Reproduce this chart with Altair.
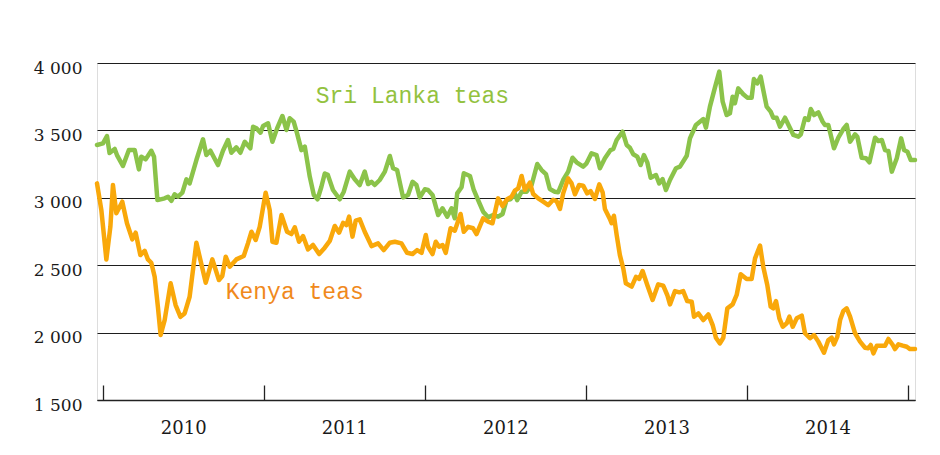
import altair as alt
import pandas as pd

# Sri Lanka teas (decimal year, price)
sl_year = [2009.965, 2010.002, 2010.027, 2010.043, 2010.075, 2010.089, 2010.126, 2010.163, 2010.199, 2010.225,
           2010.240, 2010.267, 2010.302, 2010.319, 2010.340, 2010.385, 2010.406, 2010.427, 2010.447, 2010.468,
           2010.495, 2010.520, 2010.540, 2010.582, 2010.623, 2010.644, 2010.669, 2010.716, 2010.747, 2010.778,
           2010.799, 2010.830, 2010.855, 2010.882, 2010.917, 2010.934, 2010.955, 2010.980, 2010.996, 2011.027,
           2011.054, 2011.083, 2011.116, 2011.141, 2011.161, 2011.186, 2011.207, 2011.234, 2011.255, 2011.286,
           2011.311, 2011.334, 2011.358, 2011.379, 2011.398, 2011.430, 2011.472, 2011.497, 2011.534, 2011.565,
           2011.596, 2011.627, 2011.648, 2011.669, 2011.689, 2011.720, 2011.752, 2011.783, 2011.803, 2011.828,
           2011.865, 2011.896, 2011.924, 2011.948, 2011.969, 2012.000, 2012.020, 2012.048, 2012.083, 2012.110,
           2012.139, 2012.166, 2012.186, 2012.201, 2012.228, 2012.242, 2012.280, 2012.304, 2012.331, 2012.362,
           2012.393, 2012.424, 2012.455, 2012.483, 2012.507, 2012.532, 2012.559, 2012.573, 2012.601, 2012.632,
           2012.663, 2012.698, 2012.725, 2012.752, 2012.776, 2012.807, 2012.828, 2012.859, 2012.890, 2012.917,
           2012.942, 2012.983, 2013.004, 2013.035, 2013.066, 2013.087, 2013.118, 2013.153, 2013.170, 2013.191,
           2013.228, 2013.253, 2013.273, 2013.294, 2013.319, 2013.340, 2013.360, 2013.381, 2013.402, 2013.435,
           2013.455, 2013.476, 2013.497, 2013.522, 2013.559, 2013.584, 2013.626, 2013.646, 2013.683, 2013.729,
           2013.745, 2013.770, 2013.801, 2013.828, 2013.849, 2013.874, 2013.894, 2013.911, 2013.925, 2013.946,
           2013.977, 2014.002, 2014.029, 2014.043, 2014.064, 2014.085, 2014.101, 2014.122, 2014.147, 2014.163,
           2014.184, 2014.205, 2014.236, 2014.263, 2014.288, 2014.319, 2014.334, 2014.360, 2014.381, 2014.396,
           2014.416, 2014.443, 2014.470, 2014.484, 2014.505, 2014.540, 2014.567, 2014.598, 2014.619, 2014.640,
           2014.671, 2014.685, 2014.712, 2014.739, 2014.760, 2014.795, 2014.816, 2014.837, 2014.857, 2014.878,
           2014.899, 2014.930, 2014.957, 2014.975, 2014.996, 2015.017, 2015.043]
sl_price = [3392, 3404, 3458, 3332, 3362, 3317, 3236, 3354, 3354, 3211,
            3305, 3285, 3349, 3305, 2983, 2996, 3008, 2978, 3026, 3008,
            3038, 3137, 3107, 3280, 3434, 3317, 3349, 3243, 3349, 3429,
            3334, 3374, 3334, 3416, 3367, 3527, 3515, 3483, 3533, 3553,
            3416, 3515, 3607, 3503, 3590, 3565, 3478, 3354, 3379, 3156,
            3021, 2989, 3082, 3180, 3170, 3058, 2989, 3045, 3194, 3137,
            3095, 3194, 3102, 3119, 3095, 3132, 3194, 3310, 3219, 3206,
            3003, 3021, 3119, 3095, 3003, 3063, 3058, 3021, 2872, 2922,
            2860, 2922, 2848, 3033, 3078, 3182, 3162, 3058, 2983, 2897,
            2855, 2872, 2860, 2880, 2983, 2989, 3033, 2983, 3045, 3045,
            3095, 3251, 3206, 3176, 3065, 3045, 3041, 3132, 3194, 3297,
            3263, 3231, 3256, 3330, 3317, 3219, 3293, 3354, 3362, 3429,
            3490, 3392, 3372, 3323, 3305, 3243, 3317, 3263, 3149, 3169,
            3107, 3139, 3058, 3132, 3219, 3231, 3312, 3441, 3540, 3584,
            3520, 3676, 3817, 3936, 3713, 3614, 3627, 3750, 3701, 3812,
            3768, 3743, 3743, 3881, 3849, 3899, 3800, 3676, 3639, 3594,
            3594, 3527, 3594, 3527, 3466, 3453, 3471, 3590, 3577, 3659,
            3614, 3634, 3564, 3540, 3540, 3367, 3446, 3510, 3540, 3416,
            3471, 3453, 3297, 3293, 3263, 3446, 3421, 3429, 3354, 3347,
            3194, 3293, 3441, 3354, 3342, 3280, 3280]

# Kenya teas (decimal year, price)
ke_year = [2009.965, 2009.992, 2010.023, 2010.048, 2010.064, 2010.085, 2010.122, 2010.151, 2010.184, 2010.205,
           2010.234, 2010.261, 2010.281, 2010.302, 2010.323, 2010.343, 2010.360, 2010.385, 2010.422, 2010.453,
           2010.483, 2010.509, 2010.540, 2010.582, 2010.607, 2010.640, 2010.681, 2010.722, 2010.743, 2010.764,
           2010.789, 2010.830, 2010.876, 2010.902, 2010.924, 2010.950, 2010.975, 2011.012, 2011.037, 2011.054,
           2011.079, 2011.110, 2011.145, 2011.172, 2011.193, 2011.219, 2011.244, 2011.275, 2011.306, 2011.344,
           2011.379, 2011.410, 2011.441, 2011.468, 2011.493, 2011.514, 2011.530, 2011.551, 2011.571, 2011.596,
           2011.627, 2011.669, 2011.710, 2011.745, 2011.783, 2011.814, 2011.855, 2011.890, 2011.924, 2011.952,
           2011.980, 2012.006, 2012.020, 2012.048, 2012.068, 2012.089, 2012.110, 2012.130, 2012.160, 2012.186,
           2012.222, 2012.242, 2012.269, 2012.300, 2012.321, 2012.362, 2012.393, 2012.420, 2012.455, 2012.483,
           2012.511, 2012.538, 2012.559, 2012.580, 2012.601, 2012.621, 2012.652, 2012.673, 2012.704, 2012.735,
           2012.766, 2012.797, 2012.818, 2012.839, 2012.859, 2012.890, 2012.911, 2012.932, 2012.958, 2012.983,
           2013.008, 2013.029, 2013.056, 2013.083, 2013.104, 2013.118, 2013.149, 2013.160, 2013.174, 2013.191,
           2013.211, 2013.232, 2013.248, 2013.284, 2013.311, 2013.331, 2013.352, 2013.381, 2013.414, 2013.449,
           2013.480, 2013.505, 2013.522, 2013.553, 2013.580, 2013.604, 2013.629, 2013.657, 2013.671, 2013.698,
           2013.729, 2013.760, 2013.787, 2013.807, 2013.832, 2013.853, 2013.878, 2013.911, 2013.936, 2013.961,
           2013.998, 2014.029, 2014.050, 2014.081, 2014.101, 2014.126, 2014.147, 2014.163, 2014.180, 2014.201,
           2014.222, 2014.247, 2014.263, 2014.284, 2014.309, 2014.340, 2014.360, 2014.391, 2014.416, 2014.443,
           2014.478, 2014.505, 2014.526, 2014.540, 2014.561, 2014.578, 2014.598, 2014.619, 2014.640, 2014.671,
           2014.702, 2014.733, 2014.753, 2014.768, 2014.785, 2014.806, 2014.837, 2014.857, 2014.878, 2014.905,
           2014.919, 2014.940, 2014.967, 2014.992, 2015.012, 2015.043]
ke_price = [3107, 2909, 2543, 2785, 3095, 2885, 2971, 2811, 2692, 2741,
            2575, 2607, 2543, 2518, 2414, 2192, 1982, 2093, 2366, 2204,
            2117, 2142, 2266, 2667, 2538, 2370, 2543, 2390, 2420, 2563,
            2489, 2543, 2568, 2662, 2748, 2687, 2785, 3038, 2909, 2674,
            2667, 2872, 2748, 2731, 2781, 2674, 2716, 2617, 2650, 2583,
            2630, 2680, 2791, 2741, 2815, 2798, 2860, 2712, 2830, 2840,
            2748, 2642, 2662, 2612, 2667, 2674, 2662, 2592, 2583, 2612,
            2592, 2724, 2637, 2583, 2674, 2637, 2650, 2592, 2774, 2756,
            2880, 2748, 2785, 2774, 2731, 2848, 2823, 2811, 2996, 2939,
            2989, 3008, 3053, 3070, 3162, 3058, 3112, 3028, 2996, 2971,
            2946, 2985, 2976, 2917, 3033, 3144, 3107, 3026, 3095, 3090,
            3033, 3050, 2991, 3100, 3041, 2917, 2843, 2811, 2867, 2724,
            2575, 2476, 2366, 2341, 2414, 2398, 2457, 2353, 2242, 2358,
            2348, 2279, 2209, 2308, 2299, 2308, 2234, 2229, 2118, 2142,
            2093, 2135, 2056, 1962, 1920, 1962, 2180, 2209, 2279, 2433,
            2398, 2398, 2551, 2645, 2489, 2353, 2192, 2180, 2234, 2106,
            2044, 2069, 2118, 2044, 2106, 2126, 1995, 1958, 1982, 1933,
            1851, 1945, 1962, 1913, 1970, 2093, 2160, 2180, 2118, 1995,
            1933, 1888, 1884, 1908, 1846, 1903, 1903, 1903, 1953, 1908,
            1878, 1913, 1903, 1895, 1878, 1878]

y_ticks = [1500, 2000, 2500, 3000, 3500, 4000]
year_bounds = [2010, 2011, 2012, 2013, 2014, 2015]
year_labels_at = [2010.5, 2011.5, 2012.5, 2013.5, 2014.5]

label_text = ["Sri Lanka teas", "Kenya teas"]
label_year = [2011.323, 2010.764]
label_price = [3755, 2301]
label_color = ["#93C23E", "#F0891C"]

W, H = 818, 337
GREEN = "#8BC34A"
ORANGE = "#F9A80A"

sl = pd.DataFrame({"year": sl_year, "price": sl_price})
ke = pd.DataFrame({"year": ke_year, "price": ke_price})
labels = pd.DataFrame({"text": label_text, "year": label_year, "price": label_price, "color": label_color})

xscale = alt.Scale(domain=[2009.965, 2015.043], nice=False, zero=False)
yscale = alt.Scale(domain=[1500, 4000], nice=False, zero=False)

y_axis = alt.Axis(values=y_ticks, grid=True, gridColor="#1e1e1e", gridWidth=1, domain=False,
                  ticks=False, tickSize=0, labelPadding=15, labelOffset=5,
                  labelExpr="replace(format(datum.value, ','), ',', ' ')",
                  labelFont="DejaVu Serif", labelFontSize=17, labelColor="#1a1a1a", title=None)

y_enc = alt.Y("price:Q", scale=yscale, axis=y_axis)

sl_line = alt.Chart(sl).mark_line(color=GREEN, strokeWidth=4.5, strokeJoin="round", strokeCap="round").encode(
    x=alt.X("year:Q", scale=xscale,
            axis=alt.Axis(orient="bottom", values=year_labels_at, grid=False, ticks=False, tickSize=0,
                          domain=True, domainColor="#222222", domainWidth=1.5,
                          labelPadding=19, labelExpr="format(floor(datum.value), 'd')",
                          labelFont="DejaVu Serif", labelFontSize=18, labelColor="#1a1a1a", title=None)),
    y=y_enc,
)

ke_line = alt.Chart(ke).mark_line(color=ORANGE, strokeWidth=4.5, strokeJoin="round", strokeCap="round").encode(
    x=alt.X("year:Q", scale=xscale,
            axis=alt.Axis(orient="top", offset=-H, values=year_bounds, grid=False, ticks=True,
                          tickSize=15, tickColor="#222222", tickWidth=1.3, domain=False,
                          labels=False, title=None)),
    y=y_enc,
)

text = alt.Chart(labels).mark_text(font="Liberation Mono", fontSize=23, align="left", baseline="middle").encode(
    x=alt.X("year:Q", scale=xscale, axis=None),
    y=y_enc,
    text="text:N",
    color=alt.Color("color:N", scale=None),
)

chart = alt.layer(sl_line, ke_line, text).resolve_axis(x="independent").properties(
    width=W, height=H,
    autosize=alt.AutoSizeParams(type="none"),
    padding={"left": 89, "top": 55, "right": 17, "bottom": 40},
).configure_view(stroke=None).configure(background="white")

chart.save("out.html", embed_options={"renderer": "svg", "actions": False})
